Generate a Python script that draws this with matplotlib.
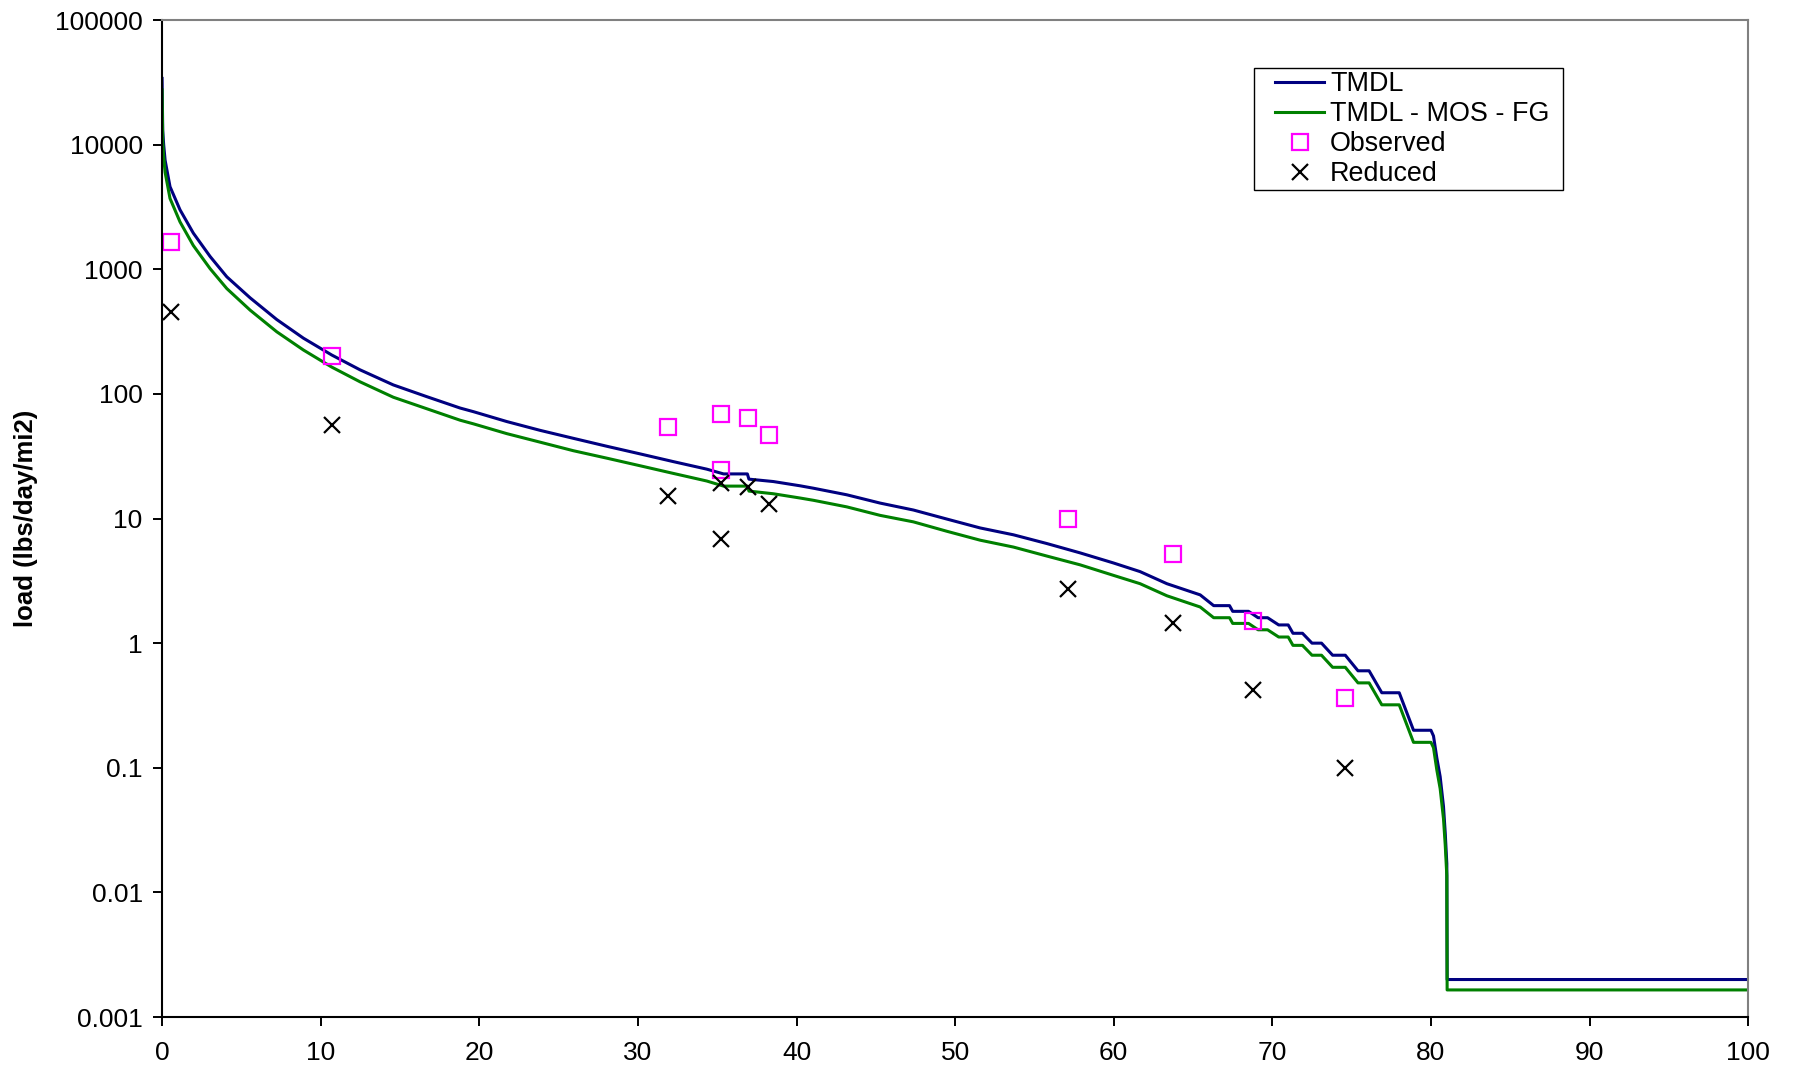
import matplotlib
matplotlib.use("Agg")
import matplotlib.pyplot as plt
from matplotlib.ticker import NullLocator
from matplotlib.lines import Line2D
from matplotlib.legend_handler import HandlerLine2D

# Load duration curve: TMDL, TMDL - MOS - FG, observed and reduced loads

plt.rcParams['font.family'] = ['Liberation Sans', 'DejaVu Sans']

# -----------------------------------------------------------
# DATA
# -----------------------------------------------------------

tmdl_x = [0.0, 0.04, 0.1, 0.19, 0.5, 1.13, 1.97, 3.03, 4.08, 5.55, 7.23,
          8.91, 10.7, 12.48, 14.58, 16.69, 18.79, 19.63, 21.73, 23.83,
          25.93, 28.04, 30.14, 32.24, 34.34, 35.4, 36.9, 37.0, 38.54,
          40.23, 41.07, 43.17, 45.27, 47.37, 49.48, 51.58, 53.68, 55.78,
          57.88, 59.98, 61.66, 63.35, 65.45, 66.3, 67.3, 67.5, 68.5, 69.1,
          69.7, 70.4, 71.0, 71.3, 71.9, 72.5, 73.1, 73.8, 74.6, 75.4, 76.1,
          76.9, 78.0, 78.9, 80.0, 80.16, 80.37, 80.58, 80.79, 80.9, 81.0,
          81.02, 100.0]
tmdl_y = [34000, 13000, 10000, 7500, 4600, 3000, 1950, 1265, 870, 590, 395,
          280, 205, 156, 118, 95, 77, 72, 60, 51,
          44, 38, 33, 28.6, 24.9, 22.8, 22.8, 20.7, 19.8,
          18.3, 17.5, 15.5, 13.3, 11.7, 9.9, 8.4, 7.4, 6.3,
          5.3, 4.4, 3.75, 3.0, 2.44, 2.0, 2.0, 1.8, 1.8, 1.6,
          1.6, 1.4, 1.4, 1.2, 1.2, 1.0, 1.0, 0.8, 0.8, 0.6, 0.6,
          0.4, 0.4, 0.2, 0.2, 0.18, 0.12, 0.085, 0.049, 0.03, 0.017,
          0.002, 0.002]

mos_x = tmdl_x
mos_y = [27500, 10500, 8000, 6000, 3700, 2400, 1550, 1010, 700, 470, 315,
         225, 164, 125, 94, 76, 61.5, 57.5, 48, 41,
         35, 30.5, 26.5, 23, 20, 18.2, 18.2, 16.6, 15.8,
         14.6, 14.0, 12.4, 10.6, 9.4, 7.9, 6.7, 5.9, 5.0,
         4.25, 3.5, 3.0, 2.4, 1.95, 1.6, 1.6, 1.44, 1.44, 1.28,
         1.28, 1.12, 1.12, 0.96, 0.96, 0.8, 0.8, 0.64, 0.64, 0.48, 0.48,
         0.32, 0.32, 0.16, 0.16, 0.145, 0.096, 0.068, 0.039, 0.024, 0.0136,
         0.00165, 0.00165]

obs_x = [0.57, 10.7, 31.9, 35.25, 36.93, 38.27, 35.25, 57.13, 63.76, 68.75, 74.6]
obs_y = [1650, 202, 54, 69, 64, 47, 24.5, 9.9, 5.2, 1.5, 0.36]

red_x = [0.57, 10.7, 31.9, 35.25, 36.93, 38.27, 35.25, 57.13, 63.76, 68.75, 74.6]
red_y = [457, 56, 15.2, 19.2, 18.0, 13.1, 6.8, 2.73, 1.44, 0.42, 0.1]

y_ticks = [0.001, 0.01, 0.1, 1, 10, 100, 1000, 10000, 100000]
y_tick_labels = ['0.001', '0.01', '0.1', '1', '10', '100', '1000', '10000', '100000']
x_ticks = [0, 10, 20, 30, 40, 50, 60, 70, 80, 90, 100]


# -----------------------------------------------------------
# PLOT
# -----------------------------------------------------------

fig = plt.figure(figsize=(17.93, 10.70), dpi=100)
ax = fig.add_axes([0.0904, 0.0495, 0.8846, 0.9318])

ax.plot(tmdl_x, tmdl_y, color='#000080', linewidth=2.2, label='TMDL')
ax.plot(mos_x, mos_y, color='#008000', linewidth=2.2, label='TMDL - MOS - FG')
ax.plot(obs_x, obs_y, linestyle='none', marker='s', markersize=11,
        markerfacecolor='none', markeredgecolor='#FF00FF', markeredgewidth=1.6,
        label='Observed')
ax.plot(red_x, red_y, linestyle='none', marker='x', markersize=11,
        color='black', markeredgewidth=1.6, label='Reduced')

ax.set_yscale('log')
ax.set_xlim(0, 100)
ax.set_ylim(0.001, 100000)
ax.set_yticks(y_ticks)
ax.set_yticklabels(y_tick_labels)
ax.yaxis.set_minor_locator(NullLocator())
ax.set_xticks(x_ticks)

ax.tick_params(axis='both', direction='out', length=6.5, width=1.4,
               labelsize=19)
ax.tick_params(axis='x', pad=11)
ax.tick_params(axis='y', pad=7.5)

for side in ['left', 'bottom']:
    ax.spines[side].set_color('black')
    ax.spines[side].set_linewidth(1.5)
for side in ['top', 'right']:
    ax.spines[side].set_color('#808080')
    ax.spines[side].set_linewidth(1.5)

ax.set_ylabel('load (lbs/day/mi2)', fontsize=18.5, fontweight='bold', labelpad=12.4)

# legend box: fixed width (expand mode), handles pushed a bit to the right
leg = ax.legend(loc='upper left', bbox_to_anchor=(0.6885, 0.75, 0.195, 0.2015),
                mode='expand',
                fontsize=19.4, numpoints=1, handlelength=2.49, handletextpad=0.23,
                labelspacing=0.15, borderpad=0.1, borderaxespad=0,
                fancybox=False, framealpha=1,
                handler_map={Line2D: HandlerLine2D(xpad=0.69)})
leg.get_frame().set_edgecolor('black')
leg.get_frame().set_linewidth(1.0)

fig.savefig('out.png', dpi=100)
